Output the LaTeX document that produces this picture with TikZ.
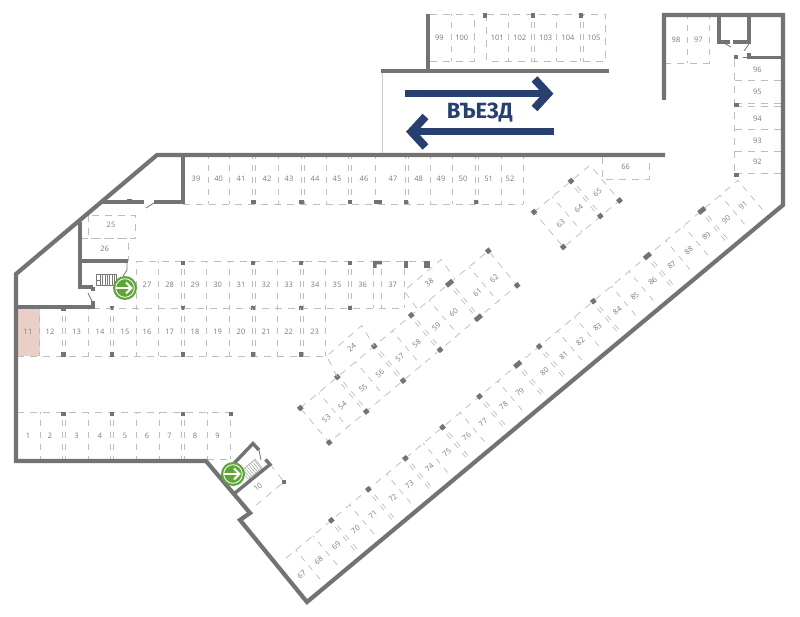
\documentclass[tikz,border=0pt]{standalone}
\usepackage{fontspec}
\setmainfont{Open Sans}
\newfontfamily\entryfont{Fira Sans}
\definecolor{wallc}{HTML}{737373}
\definecolor{bayc}{HTML}{BDBDBD}
\definecolor{lblc}{HTML}{7A7A7A}
\definecolor{pinkc}{HTML}{EACFC6}
\definecolor{greenc}{HTML}{5FA539}
\definecolor{bluec}{HTML}{27406F}
\tikzset{
 wall/.style={draw=wallc,line width=4.2pt,line join=miter,line cap=butt},
 iwall/.style={draw=wallc,line width=3.4pt,line join=miter,line cap=butt},
 door/.style={draw=wallc,line width=.8pt},
 bayv/.style={draw=bayc,line width=.75pt,dash pattern=on 6pt off 6pt,dash phase=4pt},
 bayh/.style={draw=bayc,line width=.75pt,dash pattern=on 7pt off 6pt},
 lbl/.style={font=\fontsize{7.5}{9}\selectfont,text=lblc,inner sep=0pt},
 blue shaft/.style={draw=bluec,line width=7pt},
 blue head/.style={draw=bluec,line width=8pt,line join=miter,miter limit=10},
}
% vertical bay divider in the current frame: x, y from, y to
\newcommand\vdv[3]{\draw[bayv] (#1,#2)--(#1,#3);}
\newcommand\dvd[3]{\draw[bayv] (#1-1.4,#2)--(#1-1.4,#3);\draw[bayv] (#1+1.4,#2)--(#1+1.4,#3);}
\newcommand\pillar[2]{\fill[wallc] (#1-2.4,#2-2.4) rectangle (#1+2.4,#2+2.4);}
\newcommand\widepillar[2]{\fill[wallc] (#1-4,#2-2.4) rectangle (#1+4,#2+2.4);}
\begin{document}
\begin{tikzpicture}[x=1pt,y=-1pt]
\useasboundingbox (0,0) rectangle (800,617);
% pink bay
\fill[pinkc] (17.5,309) rectangle (39.5,356);
% light line at the ramp
\draw[draw=black!20,line width=1pt] (382,71)--(382,155);

% ---------- straight rows ----------
% 39-52
\draw[bayh] (183,204)--(523,204);
\foreach \x in {208,229,278,326,375,430,452,501,523} {\vdv{\x}{157}{204}}
\foreach \x in {253.5,302.5,350,406.5,476.5} {\dvd{\x}{157}{204}}
\foreach \x/\t in {196/39,218.6/40,241/41,267/42,289/43,315/44,337/45,364/46,393/47,418.6/48,441/49,463/50,488.6/51,510/52}
  \node[lbl] (n\t) at (\x,179) {\t};
\foreach \x in {253.5,301.5,350,406,476} {\pillar{\x}{202}}
\widepillar{378}{202}

% 27-37
\draw[bayh] (93,308)--(404,308);
\draw[bayh] (136,261)--(424,261);
\foreach \x in {136,158.5,206.5,229,277,325.7,373,381,404} {\vdv{\x}{261}{308}}
\foreach \x in {183,254,301.5,350} {\dvd{\x}{261}{308}}
\foreach \x/\t in {147/27,169.6/28,195/29,217.6/30,241/31,266/32,288.6/33,315/34,337/35,362.6/36,392.6/37}
  \node[lbl] (n\t) at (\x,285) {\t};
\foreach \x in {183,253,301,350} {\pillar{\x}{263}}
\fill[wallc] (373,261) -- (382,261) -- (382,264.5) -- (376.5,264.5) -- (376.5,268) -- (373,268) -- cycle;
\fill[wallc] (404,261) rectangle (408,268);
\fill[wallc] (424,261) rectangle (430,268);
\foreach \x in {112,183,253,301,350} {\pillar{\x}{308}}

% 11-23
\draw[bayh] (17,356)--(326,356);
\foreach \x in {39.5,88,136,158.5,206.5,229,277,325.7} {\vdv{\x}{308}{356}}
\foreach \x in {63.5,112,183,254,301.5} {\dvd{\x}{308}{356}}
\foreach \x/\t in {28/11,50/12,76.6/13,100/14,125/15,147/16,169.6/17,195/18,217.6/19,241/20,266/21,288.6/22,314.6/23}
  \node[lbl] (n\t) at (\x,332) {\t};
\foreach \x in {63.5,112,183,253,301} {\pillar{\x}{354.5}}
\pillar{63.5}{308.5}

% 1-9
\draw[bayh] (17,412)--(231,412);
\draw[bayh] (207,459.5)--(230,459.5);
\foreach \x in {40,88.6,136.6,159,207,230} {\vdv{\x}{412}{459}}
\foreach \x in {63.5,112,183} {\dvd{\x}{412}{459}}
\foreach \x/\t in {28/1,50/2,76.6/3,100/4,125/5,147/6,169.6/7,195/8,217.6/9}
  \node[lbl] (n\t) at (\x,436) {\t};
\foreach \x in {63.5,112,183,231} {\pillar{\x}{414}}

% 25, 26
\draw[bayh] (88,215) rectangle (135.6,238);
\draw[bayh] (81,238)--(128.4,238)--(128.4,261);
\node[lbl] (n25) at (111,225) {25};
\node[lbl] (n26) at (104.6,249.3) {26};

% 66
\draw[bayh] (602.3,157)--(602.3,179)--(649.3,179)--(649.3,157);
\node[lbl] (n66) at (625.7,167.3) {66};

% 99-105
\draw[bayh] (430,14)--(474,14);
\draw[bayh] (486.7,14)--(605.7,14)--(605.7,61)--(486.7,61)--(486.7,14);
\draw[bayh] (430,61)--(474,61)--(474,14);
\foreach \x in {451.7,508.5,556.7} {\vdv{\x}{14}{61}}
\foreach \x in {533,581.5} {\dvd{\x}{14}{61}}
\foreach \x/\t in {439.3/99,461.7/100,497.3/101,519.7/102,545.7/103,568/104,594/105}
  \node[lbl] (n\t) at (\x,38.3) {\t};
\foreach \x in {485,533,581} {\pillar{\x}{15.5}}

% 98, 97
\draw[bayh] (664,63)--(709.7,63);
\vdv{687.5}{17}{63}
\vdv{709.7}{17}{63}
\node[lbl] (n98) at (676,39.7) {98};
\node[lbl] (n97) at (698.3,39.7) {97};

% 92-96
\draw[bayh] (734.5,60)--(734.5,173);
\foreach \y in {80.5,103,106,129,151,173.7} {\draw[bayh] (734.5,\y)--(781,\y);}
\foreach \y/\t in {69.7/96,91.7/95,118.7/94,140.7/93,162.3/92}
  \node[lbl] (n\t) at (757.3,\y) {\t};
\pillar{736}{57}
\fill[wallc] (733.5,103) rectangle (739,107);
\fill[wallc] (733.5,173) rectangle (739,177);

% ---------- row 53-62 ----------
\begin{scope}[shift={(300.3,408)},rotate=39.9]
\draw[bayh] (0,0)--(245,0)--(245,45)--(0,45)--cycle;
\foreach \t in {24,72,120,168,220} {\vdv{\t}{0}{45}}
\foreach \t in {48.3,96.4,144.6,194.5} {\dvd{\t}{0}{45}}
\foreach \t/\n in {13/53,34/54,61/55,83/56,108.8/57,130.8/58,156.3/59,179/60,210/61,231.8/62}
  \node[lbl,rotate=39.9] (n\n) at (\t,25) {\n};
\foreach \t in {0,48.3,96.4,144.6,245} {\pillar{\t}{0}\pillar{\t}{45}}
\widepillar{194.5}{0}\widepillar{194.5}{45}
\end{scope}

% 24
\draw[bayh] (337.3,377)--(326.7,356)--(361.7,325.5)--(374.3,346.3);
\node[lbl,rotate=39.9] (n24) at (351.7,347.7) {24};
% 38
\draw[bayh] (417,308.3)--(404,291)--(441,259.5)--(453.3,276.7);
\node[lbl,rotate=39.9] (n38) at (429.3,282.7) {38};

% ---------- row 63-65 ----------
\begin{scope}[shift={(534,212)},rotate=39.9]
\draw[bayh] (0,0)--(73,0)--(73,46)--(0,46)--cycle;
\vdv{24}{0}{46}
\dvd{48.3}{0}{46}
\node[lbl,rotate=39.9] (n63) at (13,26) {63};
\node[lbl,rotate=39.9] (n64) at (36.5,26) {64};
\node[lbl,rotate=39.9] (n65) at (61,26) {65};
\pillar{0}{0}\pillar{48.3}{0}\pillar{0}{45.6}\pillar{48.3}{45.6}\pillar{73}{46}
\end{scope}

% ---------- row 67-91 ----------
\begin{scope}[shift={(331.3,520.3)},rotate=39.9]
\draw[bayh] (-59,0)--(530,0);
\draw[bayv] (530,0)--(530,38);
\foreach \t in {-46.4,-24,24,72,120,168,217,295,317,365,388,436,459,507} {\vdv{\t}{0}{40}}
\foreach \t in {0,48.3,96.6,145,193.2,243,271,341.6,412,483} {\dvd{\t}{0}{40}}
\foreach \t/\n in {-57.4/67,-35.4/68,-12.5/69,12.8/70,35.4/71,61.6/72,83/73,109/74,132/75,157.5/76,179/77,205.7/78,227/79,259/80,284/81,306/82,328/83,354/84,376.6/85,400/86,425/87,447/88,470/89,496/90,518/91}
  \node[lbl,rotate=39.9] (n\n) at (\t,22.5) {\n};
\foreach \t in {0,48.3,96.6,145,193.2,271,341.6} {\pillar{\t}{0}}
\foreach \t in {243,412,483} {\widepillar{\t}{0}}
\end{scope}

% ---------- bay 10 ----------
\draw[bayh] (270,464)--(284,482)--(255,506);
\node[lbl,rotate=39.9] (n10) at (258,487) {10};
\pillar{284}{482}

% ---------- walls ----------
\draw[wall] (664,100)--(664,15)--(783,15)--(783,205)--(307,602)--(240,520)--(250,513)--(206,461)--(16,461)--(16,274)--(157,155)--(665,155);
\draw[wall] (428,14)--(428,71);
\draw[wall] (380.5,71)--(609,71);
\draw[iwall] (183,155)--(183,202)--(154,202);
\draw[iwall] (144,202)--(102,202);
\draw[iwall] (80,222)--(80,287)--(93,287);
\draw[iwall] (80,261)--(127.5,261);
\draw[iwall] (16,307)--(93,307)--(93,301);
\fill[wallc] (126.5,199) rectangle (131.5,202);
\fill[wallc] (90.5,287) rectangle (95,291);
\draw[door] (127,261)--(127,270)--(123,276);
\draw[door] (88,293)--(92,301);
\draw[door] (146,208)--(154,203);
% service room, top right
\draw[iwall] (719,15)--(719,42)--(730,42);
\draw[iwall] (733,42)--(749,42)--(749,15);
\draw[iwall] (749,53)--(749,57.5)--(781,57.5);
\draw[door] (722,42)--(731,47);
\draw[door] (749,44)--(744,51);
\draw[door] (743,57.5)--(748,57.5);
% stair room 2
\draw[iwall] (220,478)--(253,443.5)--(259,450);
\draw[iwall] (265.5,459.5)--(270,464.5)--(235,493);
\draw[door] (259,450)--(261,460);

% ---------- stairs ----------
\draw[draw=lblc,line width=.5pt] (96.7,274.5) rectangle (116,285.7);
\foreach \x in {100,102.4,104.8,107.2,109.6,112,114.4} {\draw[draw=lblc,line width=.5pt] (\x,274.5)--(\x,285.7);}
\draw[draw=lblc,line width=.5pt] (96.7,280)--(100,280);
\begin{scope}[shift={(251.7,469.3)},rotate=39.9]
\draw[draw=lblc!70,line width=.5pt] (-9,-5.5) rectangle (9,5.5);
\foreach \x in {-6.6,-4.2,-1.8,.6,3,5.4,7.8} {\draw[draw=lblc!70,line width=.5pt] (\x,-5.5)--(\x,5.5);}
\end{scope}

% ---------- exits ----------
\foreach \cx/\cy in {125/288,233/474} {
\begin{scope}[shift={(\cx,\cy)}]
\fill[greenc] (0,0) circle (12);
\draw[white,line width=.8pt] (0,0) circle (9.3);
\draw[white,line width=2pt] (-9,0)--(6,0);
\draw[white,line width=2pt,line join=miter] (1,-5.5)--(6.5,0)--(1,5.5);
\end{scope}}

% ---------- entry arrows ----------
\draw[blue shaft] (405.3,93.7)--(548,93.7);
\draw[blue head] (534.5,79)--(548,93.7)--(534.5,108.5);
\draw[blue shaft] (553.7,131.7)--(412,131.7);
\draw[blue head] (425.5,116.5)--(411.5,131.7)--(425.5,147);
\node[font=\entryfont\fontsize{22}{24}\selectfont\bfseries,text=bluec,inner sep=0pt] (entry) at (479.7,112.3) {ВЪЕЗД};
\end{tikzpicture}
\end{document}
